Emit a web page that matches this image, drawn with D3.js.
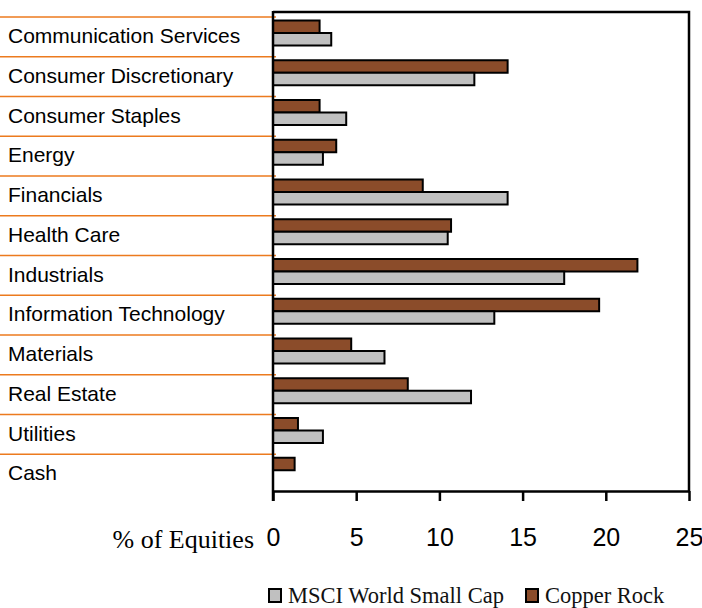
<!DOCTYPE html>
<html>
<head>
<meta charset="utf-8">
<script src="https://cdn.jsdelivr.net/npm/d3@7"></script>
<style>
  body { margin: 0; background: #fff; }
  svg { display: block; }
</style>
</head>
<body>
<div id="chart"></div>
<script>
// sector weights, % of equities
var sectors = ["Communication Services", "Consumer Discretionary", "Consumer Staples", "Energy",
  "Financials", "Health Care", "Industrials", "Information Technology", "Materials",
  "Real Estate", "Utilities", "Cash"];
var copperRock = [2.8, 14.1, 2.8, 3.8, 9.0, 10.7, 21.9, 19.6, 4.7, 8.1, 1.5, 1.3];
var msciSmallCap = [3.5, 12.1, 4.4, 3.0, 14.1, 10.5, 17.5, 13.3, 6.7, 11.9, 3.0, 0];
var xTicks = [0, 5, 10, 15, 20, 25];

var brown = "#8b4c2a", grey = "#c0c0c0", orange = "#ec7a1e";

var width = 702, height = 608;
var svg = d3.select("#chart").append("svg")
    .attr("width", width)
    .attr("height", height);

var x = d3.scaleLinear().domain([0, 25]).range([273, 689]);
var y = d3.scaleBand().domain(sectors).range([17, 494]);

// orange separators on the label side
svg.selectAll(".sep").data(sectors).enter().append("line")
    .attr("x1", 0).attr("x2", 276)
    .attr("y1", function(d){ return y(d); })
    .attr("y2", function(d){ return y(d); })
    .attr("stroke", orange).attr("stroke-width", 1.5);

// category labels
svg.selectAll(".lbl").data(sectors).enter().append("text")
    .attr("x", 8)
    .attr("y", function(d){ return y(d) + y.bandwidth() / 2 - 1; })
    .attr("dy", "0.35em")
    .attr("font-family", "Liberation Sans, Arial, sans-serif")
    .attr("font-size", 21)
    .attr("fill", "#000")
    .text(function(d){ return d; });

// frame top and right
svg.append("path")
    .attr("d", "M" + x(0) + ",12H" + x(25) + "V491")
    .attr("fill", "none").attr("stroke", "#000").attr("stroke-width", 2.5);

var barH = 12.5;
svg.selectAll(".cr").data(sectors).enter().append("rect")
    .attr("x", x(0))
    .attr("y", function(d){ return y(d) + 3.5; })
    .attr("width", function(d, i){ return x(copperRock[i]) - x(0); })
    .attr("height", barH)
    .attr("fill", brown).attr("stroke", "#000").attr("stroke-width", 2);

svg.selectAll(".ms").data(sectors).enter().append("rect")
    .filter(function(d, i){ return msciSmallCap[i] > 0; })
    .attr("x", x(0))
    .attr("y", function(d){ return y(d) + 3.5 + barH; })
    .attr("width", function(d){ return x(msciSmallCap[sectors.indexOf(d)]) - x(0); })
    .attr("height", barH)
    .attr("fill", grey).attr("stroke", "#000").attr("stroke-width", 2);

// left axis line
svg.append("line")
    .attr("x1", x(0)).attr("x2", x(0)).attr("y1", 11).attr("y2", 501)
    .attr("stroke", "#000").attr("stroke-width", 2.5);

// bottom axis
var xAxis = d3.axisBottom(x).tickValues(xTicks).tickSize(10).tickPadding(27).tickSizeOuter(0);
var gx = svg.append("g").attr("transform", "translate(0,491)").call(xAxis);
gx.select(".domain").attr("stroke", "#000").attr("stroke-width", 2.5);
gx.selectAll(".tick line").attr("stroke", "#000").attr("stroke-width", 2.5);
gx.selectAll(".tick text")
    .attr("font-family", "Liberation Sans, Arial, sans-serif")
    .attr("font-size", 25)
    .attr("fill", "#000");

svg.append("text")
    .attr("x", 254).attr("y", 548)
    .attr("text-anchor", "end")
    .attr("font-family", "Liberation Serif, Times New Roman, serif")
    .attr("font-size", 26)
    .attr("fill", "#000")
    .text("% of Equities");

// legend
var legend = [{ name: "MSCI World Small Cap", color: grey, x: 269 },
              { name: "Copper Rock", color: brown, x: 526 }];
var lg = svg.selectAll(".lg").data(legend).enter().append("g")
    .attr("transform", function(d){ return "translate(" + d.x + ",589)"; });
lg.append("rect")
    .attr("width", 12).attr("height", 13)
    .attr("fill", function(d){ return d.color; })
    .attr("stroke", "#000").attr("stroke-width", 2);
lg.append("text")
    .attr("x", 19).attr("y", 13.5)
    .attr("font-family", "Liberation Serif, Times New Roman, serif")
    .attr("font-size", 22.5)
    .attr("fill", "#111")
    .text(function(d){ return d.name; });
</script>
</body>
</html>
